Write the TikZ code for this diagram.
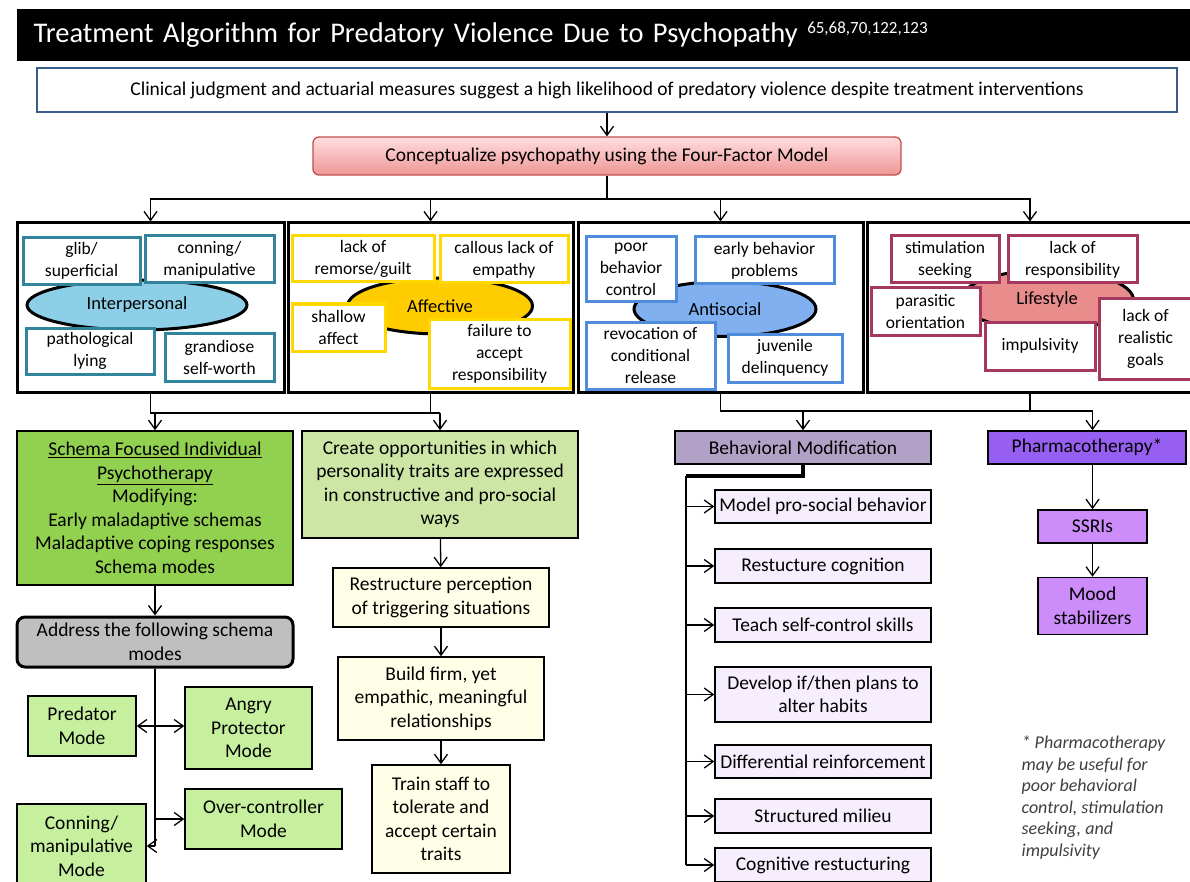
\documentclass[tikz,border=0pt]{standalone}
\usepackage{fontspec}
\setmainfont{Carlito}
\usetikzlibrary{arrows.meta,shapes.geometric,positioning}

\definecolor{clinblue}{RGB}{56,93,138}
\definecolor{conctop}{RGB}{255,222,222}
\definecolor{concbot}{RGB}{238,150,150}
\definecolor{concline}{RGB}{192,80,77}
\definecolor{interfill}{RGB}{142,207,232}
\definecolor{interline}{RGB}{49,132,155}
\definecolor{afffill}{RGB}{255,204,0}
\definecolor{affline}{RGB}{255,216,0}
\definecolor{antifill}{RGB}{128,176,240}
\definecolor{antiline}{RGB}{79,141,220}
\definecolor{lifefill}{RGB}{232,140,140}
\definecolor{lifeline}{RGB}{166,56,96}
\definecolor{schemagreen}{RGB}{146,208,80}
\definecolor{creategreen}{RGB}{205,229,165}
\definecolor{modegreen}{RGB}{198,239,158}
\definecolor{ivory}{RGB}{255,255,232}
\definecolor{addrgray}{RGB}{191,191,191}
\definecolor{bmfill}{RGB}{178,161,199}
\definecolor{pharmfill}{RGB}{150,95,242}
\definecolor{ssrifill}{RGB}{204,140,250}
\definecolor{lavender}{RGB}{246,238,252}
\definecolor{notegray}{RGB}{64,64,64}

\begin{document}
\begin{tikzpicture}[x=1pt,y=-1pt,>={Straight Barb[length=9pt,width=13pt]},line width=1.3pt,
  font=\fontsize{19.5}{23.5}\selectfont]
  \tikzstyle{plain}=[draw=black,line width=1.5pt,align=center,inner sep=2pt]
  \tikzstyle{factor}=[draw=black,line width=3pt,minimum height=169]
  \tikzstyle{trait}=[fill=white,line width=3pt,align=center,inner sep=1pt,font=\fontsize{17.5}{22}\selectfont]
  \tikzstyle{bubble}=[ellipse,draw=black,line width=3pt,inner sep=0pt,font=\fontsize{18.5}{22}\selectfont]
  \tikzstyle{stepbox}=[plain,fill=lavender,minimum width=216]

  \clip (0,0) rectangle (1190,882);
  \fill[white] (0,0) rectangle (1190,882);

  % title and top of the algorithm
  \node[fill=black,text=white,anchor=north west,minimum width=1180,minimum height=52,inner xsep=17pt,
    text width=1146,align=left,font=\fontsize{28.5}{32}\selectfont] (title) at (16,8)
    {Treatment Algorithm for Predatory Violence Due to Psychopathy \raisebox{9pt}{\fontsize{17}{17}\selectfont 65,68,70,122,123}};
  \node[draw=clinblue,line width=2pt,minimum width=1140,minimum height=44] (clinical) at (607,90)
    {Clinical judgment and actuarial measures suggest a high likelihood of predatory violence despite treatment interventions};
  \node[draw=concline,line width=1.3pt,rounded corners=6pt,top color=conctop,bottom color=concbot,
    minimum width=588,minimum height=38] (concept) at (607,156)
    {Conceptualize psychopathy using the Four-Factor Model};

  % the four factors
  \node[factor,minimum width=267] (f1) at (150.5,307.5) {};
  \node[factor,minimum width=285] (f2) at (430.5,307.5) {};
  \node[factor,minimum width=285] (f3) at (720.5,307.5) {};
  \node[factor,minimum width=326] (f4) at (1030,307.5) {};

  \node[bubble,fill=interfill,minimum width=220,minimum height=50] (inter) at (137,305) {Interpersonal};
  \node[bubble,fill=afffill,minimum width=185,minimum height=56] (affect) at (440,306) {Affective};
  \node[bubble,fill=antifill,minimum width=182,minimum height=55] (anti) at (725,309) {Antisocial};
  \node[bubble,fill=lifefill,minimum width=173,minimum height=60] (life) at (1047,300) {Lifestyle};

  \node[trait,draw=interline,minimum width=117,minimum height=47] (glib) at (81.5,261) {glib/\\superficial};
  \node[trait,draw=interline,minimum width=129,minimum height=47] (conning) at (209.5,259.5) {conning/\\manipulative};
  \node[trait,draw=interline,minimum width=128,minimum height=46] (lying) at (90,351) {pathological\\lying};
  \node[trait,draw=interline,minimum width=109,minimum height=48] (grand) at (219.5,357) {grandiose\\self-worth};

  \node[trait,draw=affline,minimum width=142,minimum height=46] (remorse) at (363,259) {lack of\\remorse/guilt};
  \node[trait,draw=affline,minimum width=128,minimum height=47] (callous) at (504,259.5) {callous lack of\\empathy};
  \node[trait,draw=affline,minimum width=93,minimum height=47] (shallow) at (338.5,327.5) {shallow\\affect};
  \node[trait,draw=affline,minimum width=141,minimum height=69] (failure) at (499.5,353.5) {failure to\\accept\\responsibility};

  \node[trait,draw=antiline,minimum width=90,minimum height=65] (poorctl) at (631,269.5) {poor\\behavior\\control};
  \node[trait,draw=antiline,minimum width=139,minimum height=47] (earlyprob) at (764.5,260.5) {early behavior\\problems};
  \node[trait,draw=antiline,minimum width=129,minimum height=67] (revoke) at (650.5,355.5) {revocation of\\conditional\\release};
  \node[trait,draw=antiline,minimum width=114,minimum height=48] (juvenile) at (785,358) {juvenile\\delinquency};

  \node[trait,draw=lifeline,minimum width=108,minimum height=47] (stim) at (945,259.5) {stimulation\\seeking};
  \node[trait,draw=lifeline,minimum width=129,minimum height=47] (noresp) at (1072.5,259.5) {lack of\\responsibility};
  \node[trait,draw=lifeline,minimum width=109,minimum height=47] (parasite) at (925.5,311.5) {parasitic\\orientation};
  \node[trait,draw=lifeline,minimum width=110,minimum height=48] (impulse) at (1040,346) {impulsivity};
  \node[trait,draw=lifeline,minimum width=93,minimum height=80] (goals) at (1145.5,339) {lack of\\realistic\\goals};

  % left branch
  \node[plain,fill=schemagreen,minimum width=276,minimum height=154] (schema) at (155,508)
    {\underline{Schema Focused Individual}\\\underline{Psychotherapy}\\Modifying:\\Early maladaptive schemas\\Maladaptive coping responses\\Schema modes};
  \node[plain,fill=addrgray,line width=3pt,rounded corners=8pt,minimum width=276,minimum height=50] (address) at (155,642)
    {Address the following schema\\modes};
  \node[plain,fill=modegreen,minimum width=108,minimum height=60] (predator) at (82,726) {Predator\\Mode};
  \node[plain,fill=modegreen,minimum width=127,minimum height=82] (angry) at (248.5,728) {Angry\\Protector\\Mode};
  \node[plain,fill=modegreen,minimum width=157,minimum height=60] (overctl) at (263.5,819) {Over-controller\\Mode};
  \node[plain,fill=modegreen,minimum width=129,minimum height=84] (conmode) at (81.5,846) {Conning/\\manipulative\\Mode};

  \node[plain,fill=creategreen,minimum width=276,minimum height=107] (create) at (440,484.5)
    {Create opportunities in which\\personality traits are expressed\\in constructive and pro-social\\ways};
  \node[plain,fill=ivory,minimum width=216,minimum height=59] (restruct) at (441,597.5) {Restructure perception\\of triggering situations};
  \node[plain,fill=ivory,minimum width=206,minimum height=83] (build) at (441,698.5) {Build firm, yet\\empathic, meaningful\\relationships};
  \node[plain,fill=ivory,minimum width=138,minimum height=108] (train) at (441,819) {Train staff to\\tolerate and\\accept certain\\traits};

  % right branch
  \node[plain,fill=bmfill,minimum width=256,minimum height=33] (bm) at (803,447.5) {Behavioral Modification};
  \node[plain,fill=pharmfill,minimum width=198,minimum height=33] (pharm) at (1087,447.5) {Pharmacotherapy*};
  \node[stepbox,minimum height=33] (model) at (823,506.5) {Model pro-social behavior};
  \node[stepbox,minimum height=34] (restcog) at (823,566) {Restucture cognition};
  \node[stepbox,minimum height=34] (teach) at (823,625) {Teach self-control skills};
  \node[stepbox,minimum height=55] (develop) at (823,694.5) {Develop if/then plans to\\alter habits};
  \node[stepbox,minimum height=33] (diffr) at (823,761.5) {Differential reinforcement};
  \node[stepbox,minimum height=34] (milieu) at (823,816) {Structured milieu};
  \node[stepbox,minimum height=34] (cogr) at (823,865) {Cognitive restucturing};
  \node[plain,fill=ssrifill,minimum width=109,minimum height=33] (ssri) at (1092.5,526.5) {SSRIs};
  \node[plain,fill=ssrifill,minimum width=109,minimum height=57] (mood) at (1092.5,606) {Mood\\stabilizers};

  \node[anchor=north west,align=left,inner sep=0pt,text=notegray,font=\fontsize{18}{21.6}\selectfont\itshape] (note) at (1021,735)
    {* Pharmacotherapy\\may be useful for\\poor behavioral\\control, stimulation\\seeking, and\\impulsivity};

  % connectors
  \coordinate (bustop) at (607,199);
  \coordinate (busleft) at (150,413);
  \coordinate (busright) at (720,411);
  \coordinate (bmturn) at (686,476);

  \draw[->] (clinical) -- (concept);
  \draw (concept.south) -- (bustop);
  \draw[->] (bustop) -| (f1.north);
  \draw[->] (bustop) -| (f4.north);
  \draw[->] (f2.north |- bustop) -- (f2.north);
  \draw[->] (f3.north |- bustop) -- (f3.north);

  \draw (f1.south) |- (create.north |- busleft);
  \draw (f2.south) -- (f2.south |- busleft);
  \draw[->] (schema.north |- busleft) -- (schema.north);
  \draw[->] (create.north |- busleft) -- (create.north);

  \draw (f3.south) |- (ssri.north |- busright);
  \draw (f4.south) -- (f4.south |- busright);
  \draw[->] (bm.north |- busright) -- (bm.north);
  \draw[->] (ssri.north |- busright) -- (ssri.north |- pharm.north);

  \draw[->] (schema) -- (address);
  \draw (address.south) -- (address.south |- conmode.east);
  \draw[->] (address.south |- predator.east) -- (predator.east);
  \draw[->] (address.south |- predator.east) -- (angry.west |- predator.east);
  \draw[->] (address.south |- overctl.west) -- (overctl.west);
  \draw[->] (address.south |- conmode.east) -- (conmode.east);

  \draw[->] (create) -- (restruct);
  \draw[->] (restruct) -- (build);
  \draw[->] (build) -- (train);

  \draw[line width=4pt] (bm.south) |- (bmturn);
  \draw[line width=2.2pt] (bmturn) -- (bmturn |- cogr.west);
  \foreach \n in {model,restcog,teach,develop,diffr,milieu,cogr}
    \draw[->] (bmturn |- \n.west) -- (\n.west);

  \draw[->] (ssri.north |- pharm.south) -- (ssri.north);
  \draw[->] (ssri) -- (mood);
\end{tikzpicture}
\end{document}
